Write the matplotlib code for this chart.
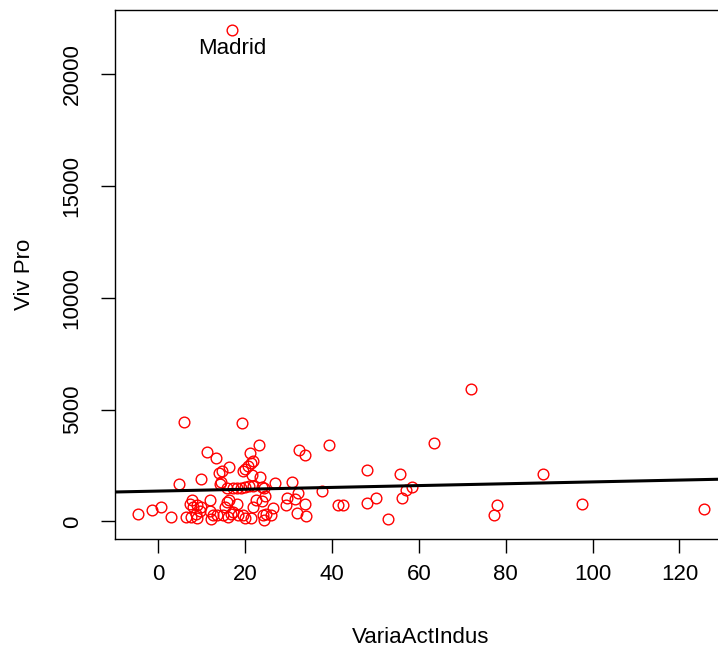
import numpy as np
import matplotlib
matplotlib.use("Agg")
import matplotlib.pyplot as plt

plt.rcParams['font.family'] = ['Liberation Sans', 'DejaVu Sans']

# Data
varia_act_indus = [
    17.0, 71.9, 6.0, 19.3, 63.5, 23.1, 39.2, 11.1, 13.2, 32.3,
    33.7, 21.0, 21.9, 21.3, 20.6, 19.9, 19.6, 16.2, 14.7, 14.0,
    21.6, 23.3, 4.8, 9.8, 14.5, 14.1, 15.8, 17.2, 18.0, 19.1,
    19.9, 20.9, 21.8, 23.9, 24.3, 26.8, 30.8, 32.2, 37.8, 29.7,
    31.5, 29.5, 33.7, 34.1, 31.9, 41.3, 42.5, 24.6, 22.6, 23.8,
    11.8, 7.7, -4.7, -1.4, 0.7, 2.8, 6.4, 48.1, 55.6, 88.7,
    58.5, 57.1, 50.2, 48.1, 56.2, 53.0, 78.0, 77.2, 97.6, 125.7,
    7.2, 8.0, 8.9, 9.9, 9.5, 8.6, 7.6, 8.8, 11.8, 12.6,
    13.4, 12.2, 15.7, 16.3, 15.3, 14.9, 16.0, 16.8, 18.0, 18.3,
    17.2, 19.5, 19.9, 21.4, 24.1, 24.3, 24.9, 26.3, 26.0, 21.8,
]
viv_pro = [
    22000, 5920, 4440, 4400, 3490, 3420, 3430, 3090, 2850, 3210,
    2990, 3070, 2690, 2630, 2480, 2330, 2250, 2450, 2240, 2190,
    2090, 2010, 1670, 1920, 1780, 1660, 1510, 1510, 1480, 1500,
    1530, 1570, 1600, 1550, 1490, 1700, 1760, 1270, 1370, 1040,
    1000, 730, 760, 260, 360, 750, 750, 1160, 980, 910,
    980, 940, 340, 510, 630, 190, 190, 2310, 2140, 2120,
    1550, 1430, 1070, 840, 1030, 120, 720, 300, 770, 540,
    790, 640, 720, 670, 490, 340, 190, 170, 490, 270,
    270, 120, 860, 970, 640, 270, 190, 340, 760, 270,
    420, 270, 170, 150, 270, 80, 340, 610, 270, 640,
]
label_text = "Madrid"
label_index = 0

# Fitted regression line (lm) coefficients
fit_intercept = 1360.0
fit_slope = 4.1

x = np.array(varia_act_indus)
y = np.array(viv_pro)

W, H = 718, 647
fig = plt.figure(figsize=(W / 100, H / 100), dpi=100)

# R-style 4% axis extension
xr = x.max() - x.min()
yr = y.max() - y.min()
xlim = (x.min() - 0.04 * xr, x.max() + 0.04 * xr)
ylim = (y.min() - 0.04 * yr, y.max() + 0.04 * yr)

left_px, top_px, bottom_px = 115.3, 10.0, 539.3
px_per_x = 4.342
width_px = (xlim[1] - xlim[0]) * px_per_x
ax = fig.add_axes([left_px / W, (H - bottom_px) / H, width_px / W, (bottom_px - top_px) / H])

ax.plot(x, y, linestyle='none', marker='o', markersize=7.7,
        markerfacecolor='none', markeredgecolor='#FF0000', markeredgewidth=1.0)

xs = np.array(xlim)
ax.plot(xs, fit_intercept + fit_slope * xs, color='black', linewidth=2.2)

ax.annotate(label_text, (x[label_index], y[label_index]), xytext=(0, -13.3),
            textcoords='offset points', ha='center', va='center', fontsize=16)

ax.set_xlim(*xlim)
ax.set_ylim(*ylim)
ax.set_xticks([0, 20, 40, 60, 80, 100, 120])
ax.set_yticks([0, 5000, 10000, 15000, 20000])
ax.tick_params(axis='both', direction='out', length=10, width=1.0, labelsize=16)
ax.tick_params(axis='x', pad=8)
ax.tick_params(axis='y', pad=13.5)
for lab in ax.get_yticklabels():
    lab.set_rotation(90)
    lab.set_va('center')
for s in ax.spines.values():
    s.set_linewidth(1.0)

ax.set_xlabel("VariaActIndus", fontsize=16, labelpad=30)
ax.set_ylabel("Viv Pro", fontsize=16, labelpad=19)

fig.savefig("out.png", dpi=100)
